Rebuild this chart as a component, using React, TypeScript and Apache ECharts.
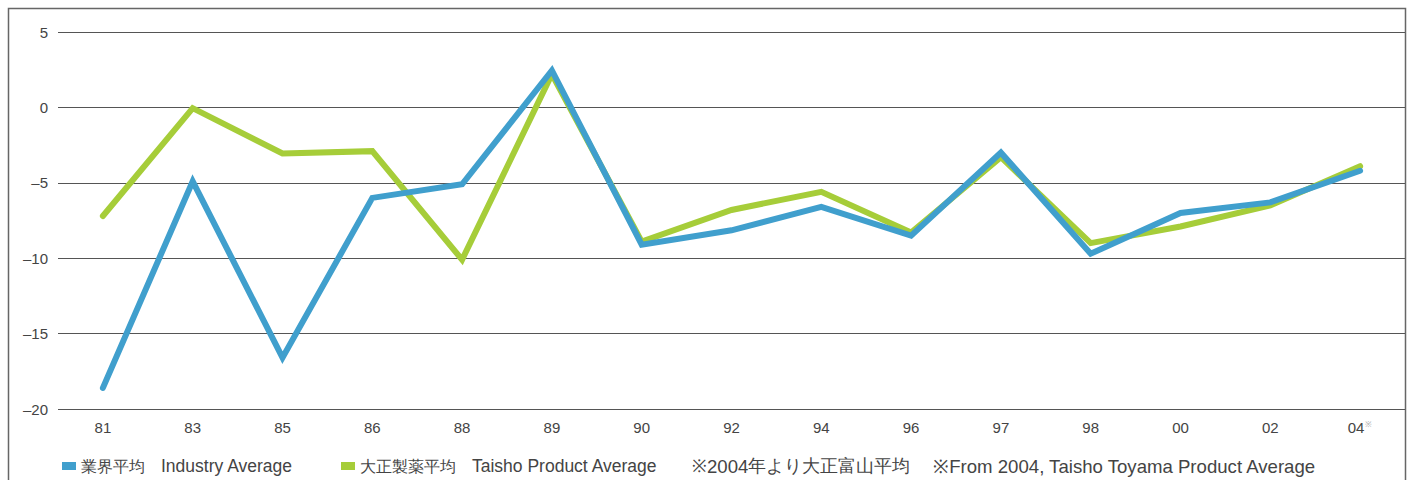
import React, { useEffect, useRef } from "react";
import * as echarts from "echarts";

const categories = ["81", "83", "85", "86", "88", "89", "90", "92", "94", "96", "97", "98", "00", "02", "04"];
const industryAvg = [-18.6, -4.9, -16.6, -6.0, -5.1, 2.45, -9.1, -8.15, -6.6, -8.5, -3.0, -9.7, -7.0, -6.3, -4.2];
const taishoAvg = [-7.2, -0.05, -3.05, -2.9, -10.1, 2.2, -8.9, -6.8, -5.6, -8.3, -3.3, -9.0, -7.9, -6.5, -3.9];
const seriesJa = ["業界平均", "大正製薬平均"];
const seriesEn = ["Industry Average", "Taisho Product Average"];
const seriesNames = [seriesJa[0] + "　" + seriesEn[0], seriesJa[1] + "　" + seriesEn[1]];
const footnoteJa = ["※", "2004", "年より大正富山平均"];
const footnoteEn = "※From 2004, Taisho Toyama Product Average";
const noteMarkedCategory = "04";

const FONT = "'Liberation Sans', Arial, sans-serif";

export default function App() {
  const ref = useRef<HTMLDivElement>(null);
  useEffect(() => {
    if (!ref.current) return;
    const chart = echarts.init(ref.current, null, { renderer: "svg" });
    chart.setOption({
      animation: false,
      textStyle: { fontFamily: FONT },
      grid: { left: 58, right: 5, top: 32, bottom: 71, containLabel: false },
      legend: {
        left: 57,
        top: 452,
        icon: "rect",
        itemWidth: 14,
        itemHeight: 8,
        itemGap: 48,
        textStyle: {
          color: "#444",
          fontFamily: FONT,
          rich: {
            c: { fontSize: 16, color: "#444", fontFamily: FONT },
            e: { fontSize: 17.5, color: "#444", fontFamily: FONT },
          },
        },
        formatter: (name: string) => {
          const i = seriesNames.indexOf(name);
          return "{c|" + seriesJa[i] + "　}{e|" + seriesEn[i] + "}";
        },
        data: seriesNames,
      },
      xAxis: {
        type: "category",
        data: categories,
        boundaryGap: true,
        axisLine: { show: false },
        axisTick: { show: false },
        axisLabel: {
          interval: 0,
          margin: 11,
          fontSize: 15,
          color: "#444",
          formatter: (v: string) => "{n|" + v + "}" + (v === noteMarkedCategory ? "{s|※}" : ""),
          rich: {
            n: { fontSize: 15, color: "#444", lineHeight: 15 },
            s: { fontSize: 8, color: "#aaa", lineHeight: 8, verticalAlign: "top", padding: [0, 0, 0, 1] },
          },
        },
      },
      yAxis: {
        type: "value",
        min: -20,
        max: 5,
        interval: 5,
        axisLine: { show: false },
        axisTick: { show: false },
        axisLabel: {
          margin: 10,
          fontSize: 15,
          color: "#444",
          formatter: (v: number) => String(v).replace("-", "–"),
        },
        splitLine: { show: true, lineStyle: { color: "#555", width: 1 } },
      },
      series: [
        {
          name: seriesNames[1],
          type: "line",
          data: taishoAvg,
          symbol: "none",
          z: 2,
          lineStyle: { color: "#a6cd39", width: 6, cap: "round", join: "miter" },
          itemStyle: { color: "#a6cd39" },
        },
        {
          name: seriesNames[0],
          type: "line",
          data: industryAvg,
          symbol: "none",
          z: 3,
          lineStyle: { color: "#409fcd", width: 6, cap: "round", join: "miter" },
          itemStyle: { color: "#409fcd" },
        },
      ],
      graphic: [
        {
          type: "rect",
          shape: { x: 8.5, y: 8.5, width: 1397, height: 520 },
          style: { fill: "none", stroke: "#666", lineWidth: 1.5 },
          silent: true,
        },
        {
          type: "text",
          x: 692,
          y: 466,
          style: {
            text:
              "{c|" + footnoteJa[0] + "}{e|" + footnoteJa[1] + "}{c|" + footnoteJa[2] + "　 }{e|" + footnoteEn + "}",
            fill: "#444",
            fontFamily: FONT,
            textVerticalAlign: "middle",
            rich: {
              c: { fontSize: 17.5, fill: "#444", fontFamily: FONT },
              e: { fontSize: 18.6, fill: "#444", fontFamily: FONT },
            },
          },
        },
      ],
    });
    return () => chart.dispose();
  }, []);
  return (
    <div style={{ position: "absolute", left: 0, top: 0, width: 1410, height: 480, background: "#fff" }}>
      <div ref={ref} style={{ width: 1410, height: 480 }} />
    </div>
  );
}
